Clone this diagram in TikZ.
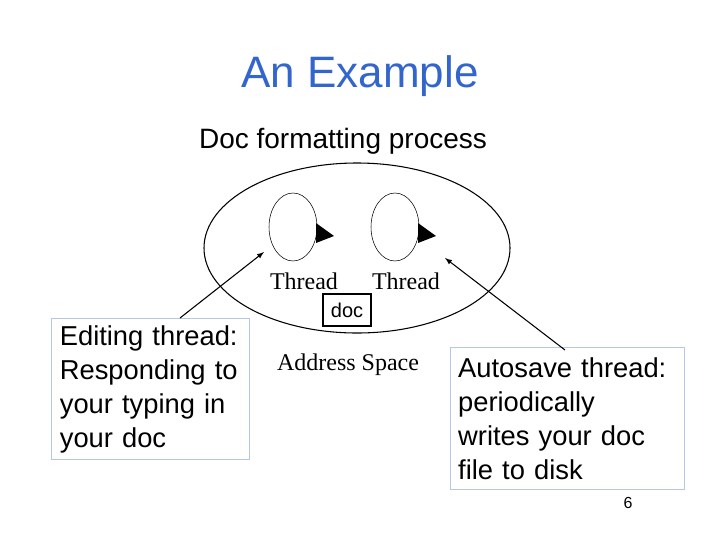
\documentclass[tikz,border=0pt]{standalone}
\usepackage{fontspec}
\setmainfont{Liberation Sans}
\newfontfamily\timesfont{Liberation Serif}
\usetikzlibrary{positioning,shapes.geometric}
\definecolor{titleblue}{RGB}{51,102,204}
\definecolor{boxblue}{RGB}{180,199,231}
\begin{document}
\begin{tikzpicture}[
    x=0.75pt, y=-0.75pt,
    thread/.style={draw, thin, ellipse, minimum width=36pt, minimum height=51pt},
    callout/.style={draw=boxblue, thick, align=left, inner sep=4pt,
      font=\fontsize{20.5}{25.5}\selectfont},
    serifnote/.style={font=\timesfont\fontsize{18}{20}\selectfont},
    arrow/.style={thick,-{latex}}
]
    \useasboundingbox (0,0) rectangle (720,540);
    \node[text=titleblue, font=\fontsize{33}{38}\selectfont] (title) at (360,76) {An Example};
    \node[font=\fontsize{21}{24}\selectfont] (sub) at (343,141) {Doc formatting process};

    \draw[thick] (357,248) ellipse [x radius=153, y radius=85];
    \node[thread] (t1) at (293,227) {};
    \node[thread] (t2) at (395,227) {};
    \fill (316,223) -- (334,236) -- (316,243) -- cycle;
    \fill (418,223) -- (436,236) -- (418,243) -- cycle;
    \node[serifnote] (l1) at (304,281) {Thread};
    \node[serifnote] (l2) at (406,281) {Thread};
    \node[draw, thick, minimum width=36pt, minimum height=24pt, font=\fontsize{15}{17}\selectfont] (doc) at (347,310) {doc};
    \node[serifnote] (as) at (348,365) {Address Space};

    \node[callout, minimum width=148pt, minimum height=106pt, text width=136pt] (edit) at (150.5,389)
      {Editing thread:\\Responding to\\your typing in\\your doc};
    \node[callout, minimum width=176pt, minimum height=107pt, text width=164pt] (auto) at (567.5,418.5)
      {Autosave thread:\\periodically\\writes your doc\\file to disk};
    \coordinate (s1) at (180,318);
    \coordinate (e1) at (264,252);
    \coordinate (s2) at (565,350);
    \coordinate (e2) at (445,258);
    \draw[arrow] (s1) -- (e1);
    \draw[arrow] (s2) -- (e2);
    \node[font=\fontsize{12}{14}\selectfont] (num) at (628,503) {6};
\end{tikzpicture}
\end{document}
